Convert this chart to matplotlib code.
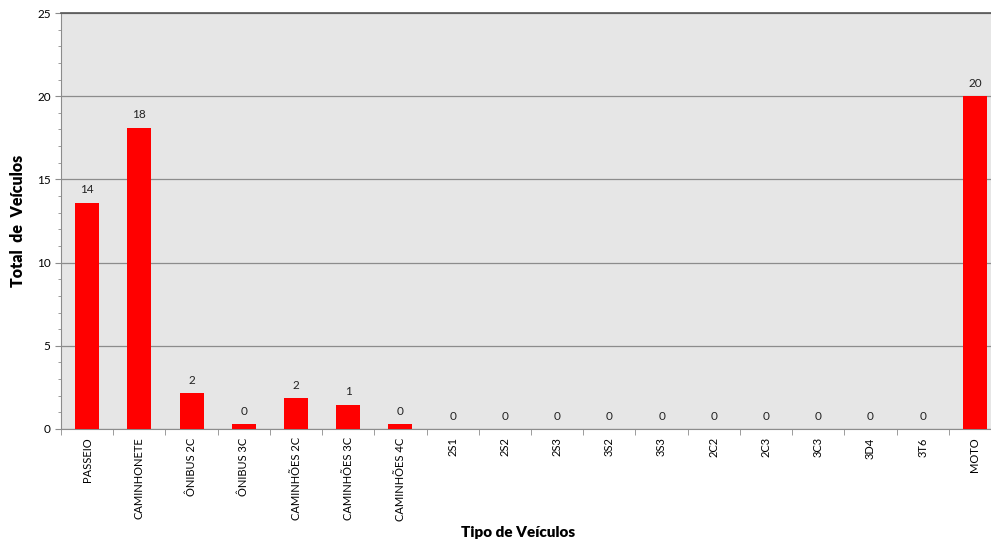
import matplotlib.pyplot as plt
import numpy as np
from matplotlib.ticker import MultipleLocator, FixedLocator

plt.rcParams['font.family'] = ['Lato', 'DejaVu Sans']

categorias = ["PASSEIO", "CAMINHONETE", "ÔNIBUS 2C", "ÔNIBUS 3C", "CAMINHÕES 2C",
              "CAMINHÕES 3C", "CAMINHÕES 4C", "2S1", "2S2", "2S3", "3S2", "3S3",
              "2C2", "2C3", "3C3", "3D4", "3T6", "MOTO"]
valores = [13.6, 18.1, 2.15, 0.3, 1.85, 1.45, 0.3, 0, 0, 0, 0, 0, 0, 0, 0, 0, 0, 20.0]

fig = plt.figure(figsize=(9.91, 5.44), dpi=100)
# the plot area runs a little past the right edge of the picture
ax = fig.add_axes([0.0616, 0.2114, 0.9485, 0.7647])
ax.set_facecolor('#e6e6e6')

x = np.arange(len(categorias))
ax.bar(x, valores, width=0.46, color='#ff0000', zorder=3)

for xi, v in zip(x, valores):
    ax.text(xi, v + 0.45, str(int(round(v))), ha='center', va='bottom', fontsize=8.5, color='#222222')

ax.set_xlim(-0.5, len(categorias) - 0.5)
ax.set_ylim(0, 25)
ax.yaxis.set_major_locator(MultipleLocator(5))
ax.yaxis.set_minor_locator(MultipleLocator(1))
ax.grid(axis='y', which='major', color='#8c8c8c', linewidth=0.9, zorder=0)

ax.set_xticks(x)
ax.set_xticklabels(categorias, rotation=90, fontsize=8)
ax.tick_params(axis='x', length=0, pad=6)
ax.xaxis.set_minor_locator(FixedLocator(np.arange(-0.5, len(categorias), 1)))
ax.tick_params(axis='x', which='minor', length=4, color='#8c8c8c')
ax.tick_params(axis='y', which='major', labelsize=8.5, length=4, color='#8c8c8c')
ax.tick_params(axis='y', which='minor', length=2.5, color='#8c8c8c')

for s in ['left', 'bottom']:
    ax.spines[s].set_color('#8c8c8c')
ax.spines['top'].set_color('#555555')
ax.spines['top'].set_linewidth(1.2)
ax.spines['right'].set_visible(False)

ax.set_ylabel("Total  de  Veículos", fontsize=11.5, fontweight='heavy', labelpad=8)
fig.text(0.523, 0.013, "Tipo de Veículos", ha='center', fontsize=11, fontweight='heavy')

fig.savefig("out.png", dpi=100)
